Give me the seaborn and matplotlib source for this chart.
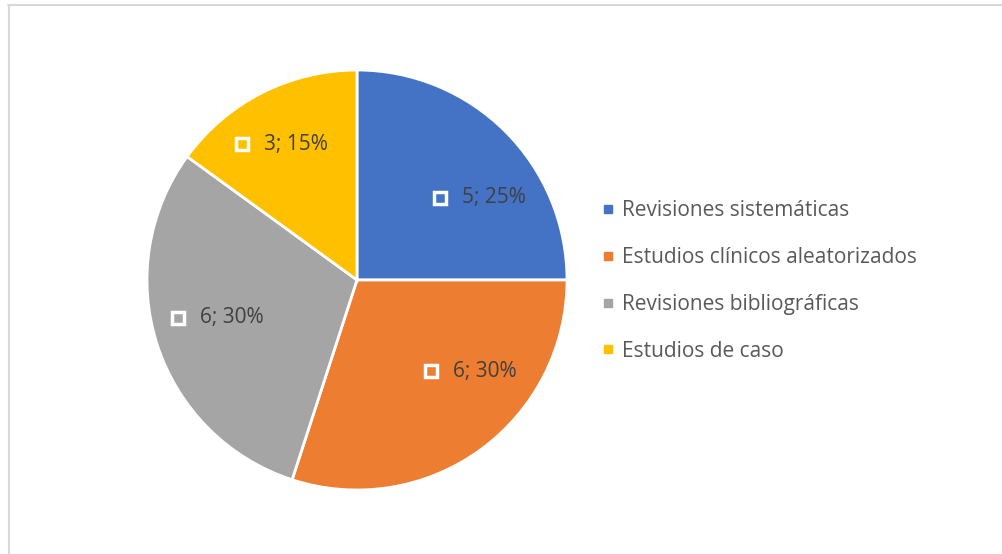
import numpy as np
import matplotlib
matplotlib.use("Agg")
import matplotlib.pyplot as plt
from matplotlib.lines import Line2D
import seaborn as sns

# Data
categories = ["Revisiones sistemáticas", "Estudios clínicos aleatorizados",
              "Revisiones bibliográficas", "Estudios de caso"]
counts = [5, 6, 6, 3]
percents = [25, 30, 30, 15]
colors = ["#4472C4", "#ED7D31", "#A5A5A5", "#FFC000"]

sns.set_theme(style="white")
plt.rcParams["font.family"] = ["Open Sans", "DejaVu Sans"]

W, H = 1003, 554
fig = plt.figure(figsize=(W / 100, H / 100), dpi=100)

# pie axes: centre (357, 280) px, radius 210 px
cx, cy, r = 357, 280, 210
ax = fig.add_axes([(cx - r) / W, (H - cy - r) / H, 2 * r / W, 2 * r / H])
wedges, _ = ax.pie(counts, colors=colors, startangle=90, counterclock=False,
                   radius=1, wedgeprops=dict(edgecolor="white", linewidth=2))
ax.set_xlim(-1, 1)
ax.set_ylim(-1, 1)
ax.set_aspect("equal")
ax.axis("off")

# label placement, Excel-style "best fit" nudges (degrees, radius fraction)
angle_nudge = [-11, 15, -3, 2]
label_dist = [0.70, 0.69, 0.69, 0.74]

texts = []
for w, n, p, da, d in zip(wedges, counts, percents, angle_nudge, label_dist):
    mid = np.deg2rad((w.theta1 + w.theta2) / 2 + da)
    px, py = d * np.cos(mid), d * np.sin(mid)
    t = ax.text(px, py, f"{n}; {p}%", ha="left", va="center",
                fontsize=15, color="#404040")
    texts.append((t, px, py, w.get_facecolor()))

fig.canvas.draw()
renderer = fig.canvas.get_renderer()
for t, px, py, fc in texts:
    wpx = t.get_window_extent(renderer).width
    group = 7.5 + 22 + wpx
    mx = px + (-group / 2 + 7.5) / r
    t.set_position((mx + 22 / r, py))
    ax.plot(mx, py, marker="s", markersize=8.8, markerfacecolor=fc,
            markeredgecolor="white", markeredgewidth=2.5, linestyle="none")

# legend
handles = [Line2D([], [], marker="s", linestyle="none", markersize=5.8,
                  markerfacecolor=c, markeredgecolor=c) for c in colors]
fig.legend(handles, categories, loc="center left",
           bbox_to_anchor=(591 / W, 1 - 281 / H), frameon=False,
           fontsize=15, labelcolor="#595959", handlelength=0.6,
           handletextpad=0.4, labelspacing=1.24, borderpad=0)

# light chart border (top and left edges visible)
fig.add_artist(Line2D([8 / W, 1], [1 - 5 / H, 1 - 5 / H], color="#D9D9D9",
                      linewidth=1.5, transform=fig.transFigure))
fig.add_artist(Line2D([9 / W, 9 / W], [0, 1 - 5 / H], color="#D9D9D9",
                      linewidth=1.5, transform=fig.transFigure))

fig.savefig("out.png", dpi=100, facecolor="white")
